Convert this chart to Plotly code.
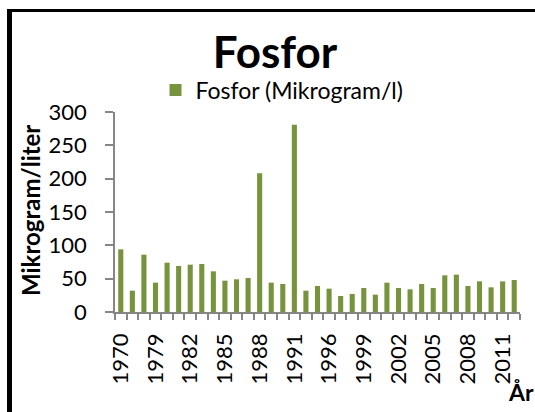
import plotly.graph_objects as go

years = ["1970", "1973", "1976", "1979", "1980", "1981", "1982", "1983", "1984",
         "1985", "1986", "1987", "1988", "1989", "1990", "1991", "1993", "1994",
         "1996", "1997", "1998", "1999", "2000", "2001", "2002", "2003", "2004",
         "2005", "2006", "2007", "2008", "2009", "2010", "2011", "2012"]
fosfor = [94, 32, 86, 44, 74, 69, 71, 72, 61, 47, 49, 51, 208, 44, 42, 281,
          32, 39, 35, 24, 27, 36, 26, 44, 36, 34, 42, 36, 55, 56, 39, 46,
          37, 46, 48]
shown_labels = ["1970", "1979", "1982", "1985", "1988", "1991", "1996", "1999",
                "2002", "2005", "2008", "2011"]
y_ticks = [0, 50, 100, 150, 200, 250, 300]

W, H = 535, 412
L, R, T, B = 115, 15, 112, 100
pw, ph = W - L - R, H - T - B

def px_x(p):
    return (p - L) / pw

def px_y(p):
    return (H - B - p) / ph

fig = go.Figure()
fig.add_trace(go.Bar(
    x=years, y=fosfor, name="Fosfor (Mikrogram/l)",
    marker=dict(color="#77933C", line=dict(width=0)),
))

font = "Lato, Carlito, sans-serif"
axis_color = "#868686"

fig.update_layout(
    width=W, height=H,
    margin=dict(l=L, r=R, t=T, b=B, autoexpand=False),
    paper_bgcolor="white", plot_bgcolor="white",
    font=dict(family=font, size=22, color="black"),
    bargap=0.56,
    title=dict(text="<b>Fosfor</b>", font=dict(family=font, size=44, color="black"),
               x=275 / W, xref="container", xanchor="center",
               y=1 - 53 / H, yref="container", yanchor="middle"),
    showlegend=True,
    legend=dict(orientation="h", x=282 / W, xref="container", xanchor="center",
                y=1 - 90 / H, yref="container", yanchor="middle",
                font=dict(family=font, size=23),
                bgcolor="rgba(0,0,0,0)", itemwidth=30),
    xaxis=dict(
        type="category", tickmode="array", tickvals=years,
        ticktext=[y if y in shown_labels else "" for y in years],
        tickangle=-90, tickson="boundaries", ticks="outside", ticklen=6,
        tickcolor=axis_color, tickwidth=1.5, automargin=False,
        showline=True, linecolor=axis_color, linewidth=1.5,
        showgrid=False, zeroline=False, ticklabelstandoff=11,
        tickfont=dict(family=font, size=22),
    ),
    yaxis=dict(
        range=[0, 300], tickmode="array", tickvals=y_ticks,
        ticks="outside", ticklen=8, tickcolor=axis_color, tickwidth=1.5,
        showline=True, linecolor=axis_color, linewidth=1.5, automargin=False,
        showgrid=False, zeroline=False, ticklabelstandoff=14,
        tickfont=dict(family=font, size=22),
    ),
    shapes=[
        dict(type="line", xref="paper", yref="paper",
             x0=px_x(9.5), x1=px_x(9.5), y0=px_y(9), y1=px_y(430),
             line=dict(color="black", width=5)),
        dict(type="line", xref="paper", yref="paper",
             x0=px_x(7), x1=px_x(550), y0=px_y(10.5), y1=px_y(10.5),
             line=dict(color="black", width=3)),
    ],
    annotations=[
        dict(text="<b>Mikrogram/liter</b>", xref="paper", yref="paper",
             x=px_x(30), y=px_y(211), xanchor="center", yanchor="middle",
             textangle=-90, showarrow=False,
             font=dict(family=font, size=24, color="black")),
        dict(text="<b>År</b>", xref="paper", yref="paper",
             x=px_x(521), y=px_y(392), xanchor="center", yanchor="middle",
             showarrow=False, font=dict(family=font, size=23, color="black")),
    ],
)

fig.write_html(
    "out.html",
    config={"displayModeBar": False},
    post_script="document.body.style.margin='0';document.body.style.overflow='hidden';",
)
